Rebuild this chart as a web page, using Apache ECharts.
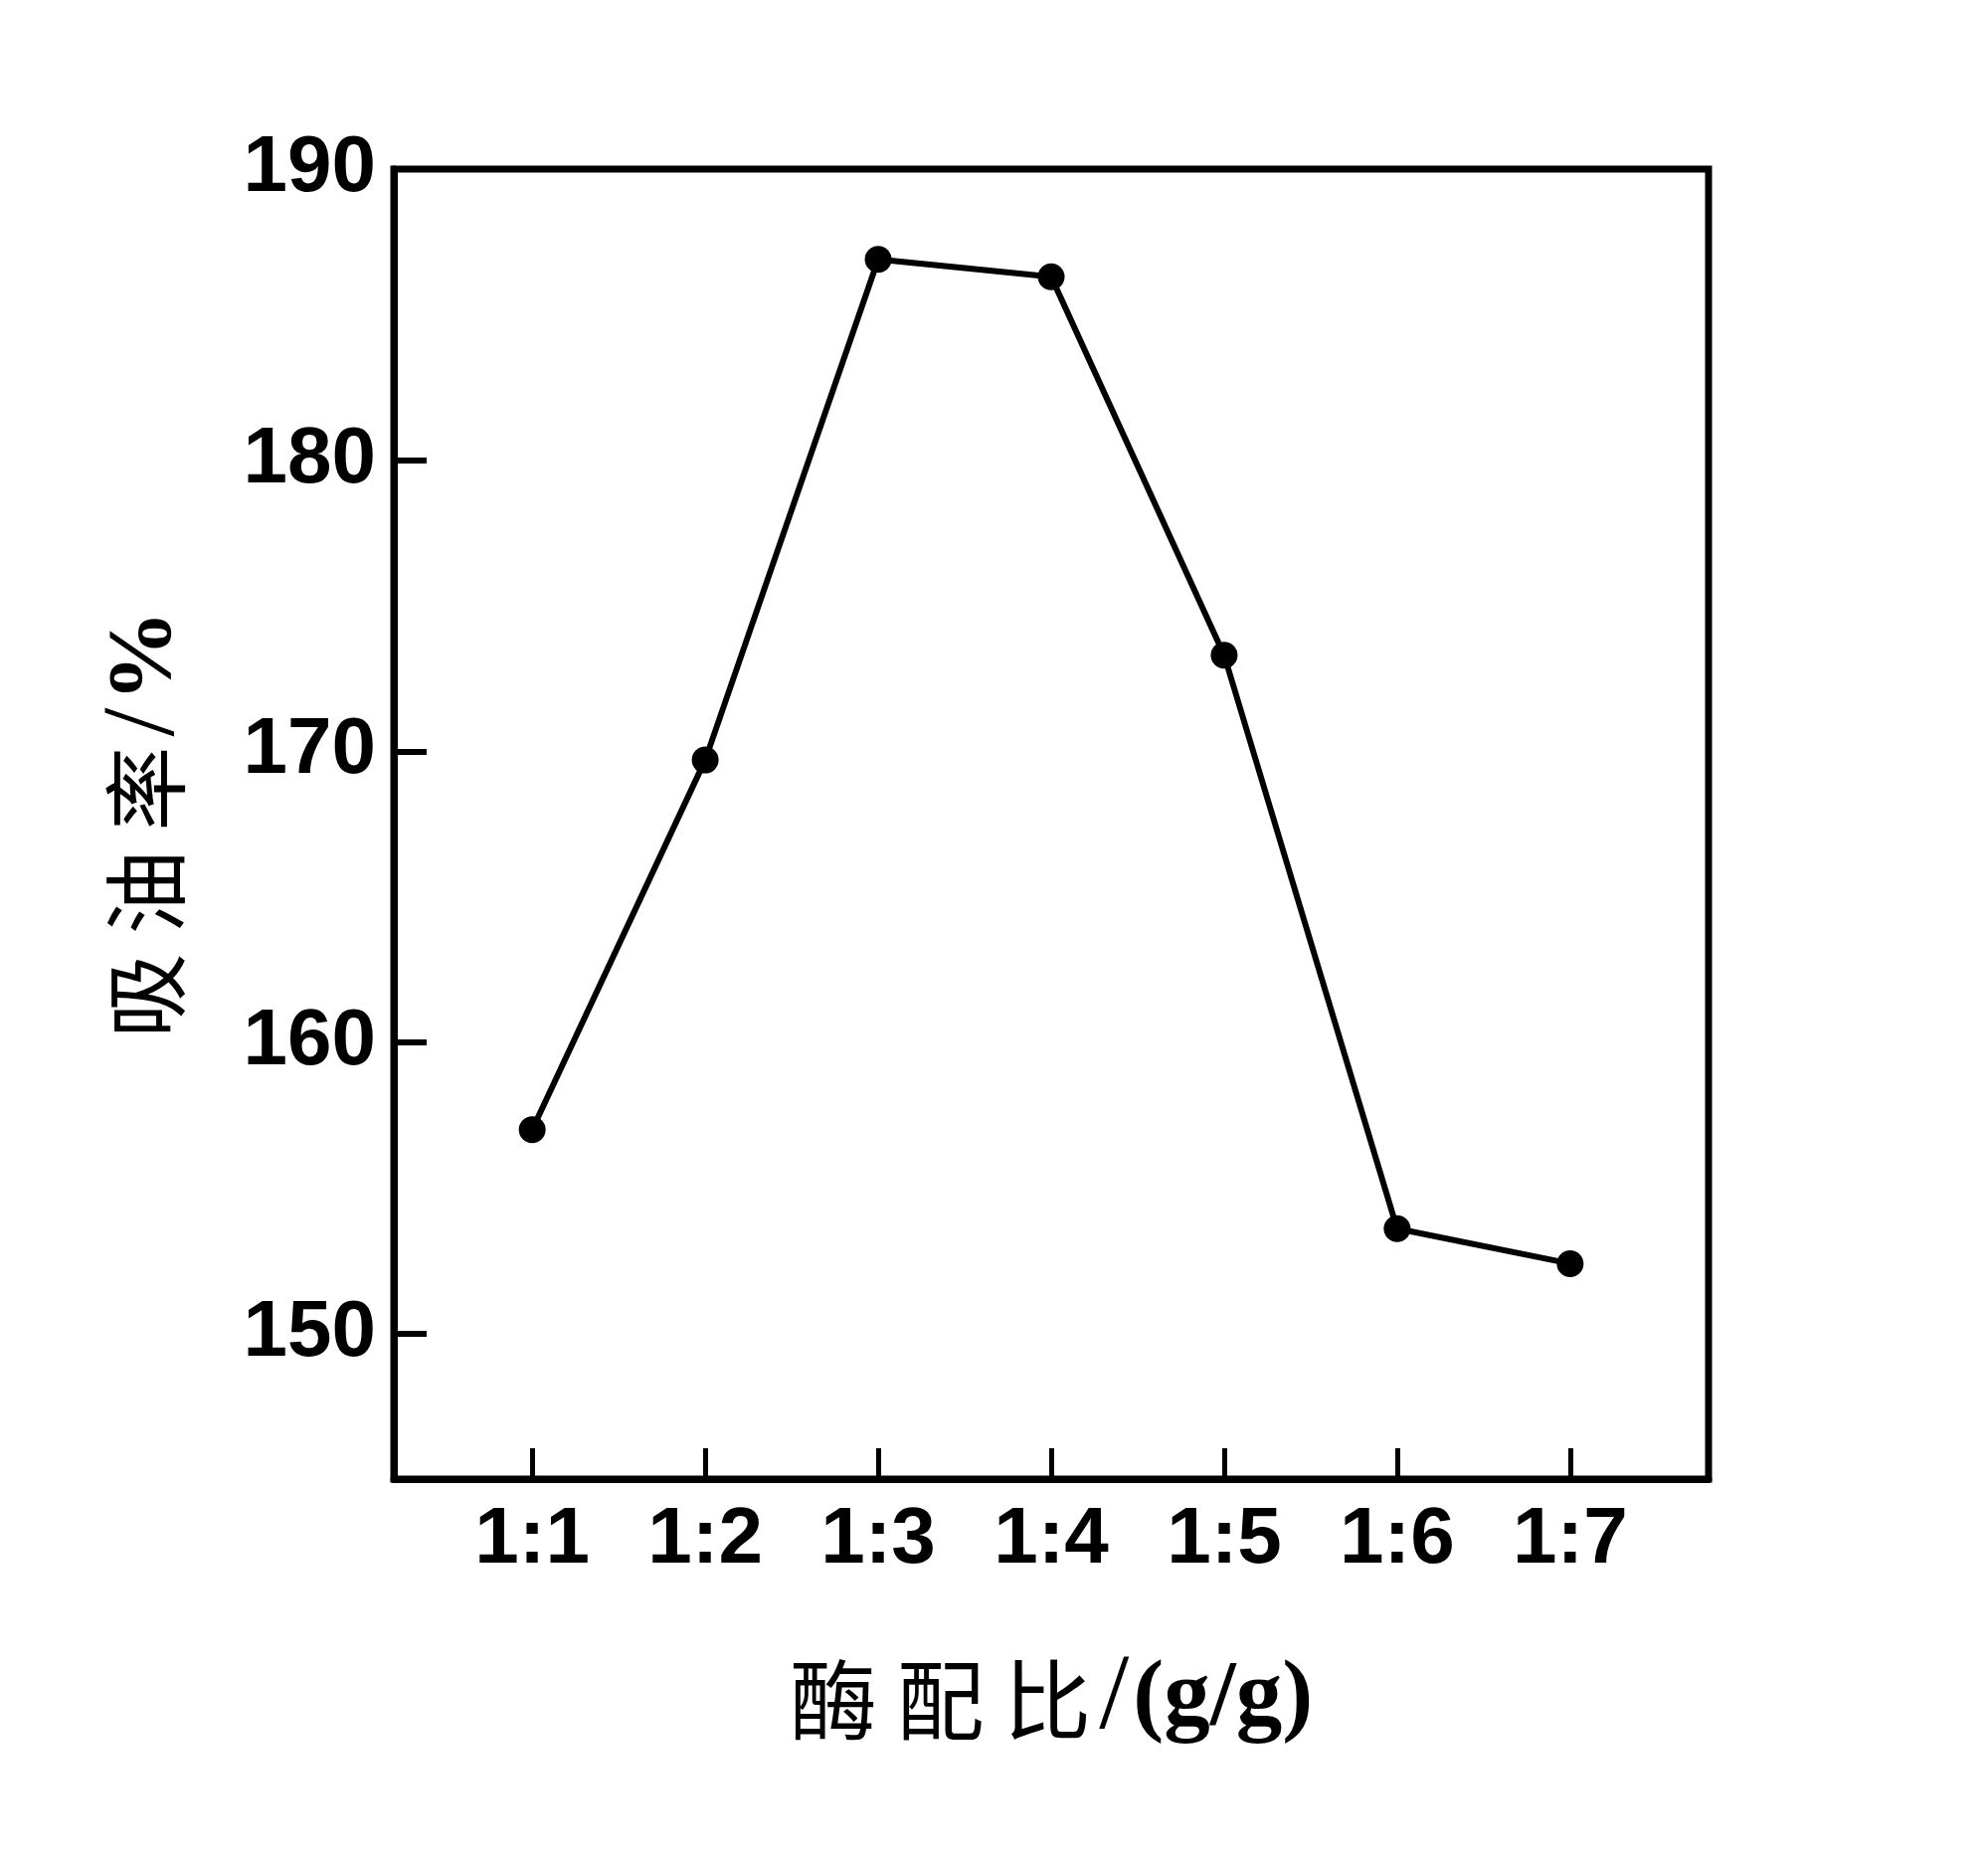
<!DOCTYPE html>
<html>
<head>
<meta charset="utf-8">
<script src="https://cdn.jsdelivr.net/npm/echarts@6/dist/echarts.min.js"></script>
<style>
  html, body { margin: 0; padding: 0; background: #fff; }
  #oil-chart { width: 1999px; height: 1875px; }
</style>
</head>
<body>
<div id="oil-chart"></div>
<script>
// enzyme ratio categories (x) and oil absorption % (y)
const ratioLabels = ['1:1', '1:2', '1:3', '1:4', '1:5', '1:6', '1:7']
const ratioPos = [1, 2, 3, 4, 5, 6, 7]
const oilAbsorption = [157.0, 169.7, 186.9, 186.3, 173.3, 153.6, 152.4]
const yTicks = [150, 160, 170, 180, 190]

const points = []
for (let i = 0; i < ratioPos.length; i++) {
  points.push([ratioPos[i], oilAbsorption[i]])
}

let myChart = echarts.init(document.getElementById('oil-chart'))
myChart.setOption({
  animation: false,
  backgroundColor: '#fff',
  grid: {
    left: 396,
    right: 281,
    top: 170,
    bottom: 388,
    show: true,
    borderColor: '#000',
    borderWidth: 7,
    backgroundColor: 'transparent'
  },
  xAxis: {
    type: 'value',
    min: 0.2,
    max: 7.8,
    splitLine: { show: false },
    axisLine: { lineStyle: { color: '#000', width: 7 } },
    axisTick: {
      inside: true,
      length: 31,
      customValues: ratioPos,
      lineStyle: { color: '#000', width: 5 }
    },
    axisLabel: {
      customValues: ratioPos,
      margin: 22,
      color: '#000',
      fontSize: 80,
      fontWeight: 'bold',
      fontFamily: 'Liberation Sans, Arial, sans-serif',
      formatter: function (v) {
        return ratioLabels[Math.round(v) - 1]
      }
    },
    name: '{c|酶 配 比}{s|/}{e|(g/g)}',
    nameLocation: 'middle',
    nameGap: 170,
    nameTextStyle: {
      rich: {
        c: { fontSize: 88, fontFamily: 'Noto Sans CJK SC', color: '#000', lineHeight: 104 },
        s: { fontSize: 108, fontFamily: 'Liberation Serif, serif', color: '#000', lineHeight: 104, padding: [0, 4, 0, 8] },
        e: { fontSize: 93, fontFamily: 'Liberation Serif, serif', fontWeight: 'bold', color: '#000', lineHeight: 104 }
      }
    }
  },
  yAxis: {
    type: 'value',
    min: 145,
    max: 190,
    splitLine: { show: false },
    axisLine: { lineStyle: { color: '#000', width: 7 } },
    axisTick: {
      inside: true,
      length: 33,
      customValues: yTicks,
      lineStyle: { color: '#000', width: 6 }
    },
    axisLabel: {
      customValues: yTicks,
      margin: 18,
      color: '#000',
      fontSize: 80,
      fontWeight: 'bold',
      fontFamily: 'Liberation Sans, Arial, sans-serif'
    },
    name: '{c|吸 油 率}{s|/}{e|%}',
    nameLocation: 'middle',
    nameGap: 200,
    nameTextStyle: {
      rich: {
        c: { fontSize: 85, fontFamily: 'Noto Sans CJK SC', color: '#000', lineHeight: 98 },
        s: { fontSize: 104, fontFamily: 'Liberation Serif, serif', color: '#000', lineHeight: 98, padding: [0, 6, 0, 10] },
        e: { fontSize: 92, fontFamily: 'Liberation Serif, serif', fontWeight: 'bold', color: '#000', lineHeight: 98 }
      }
    }
  },
  series: [
    {
      type: 'line',
      data: points,
      symbol: 'circle',
      symbolSize: 27,
      itemStyle: { color: '#000' },
      lineStyle: { color: '#000', width: 6 }
    }
  ]
})
</script>
</body>
</html>
